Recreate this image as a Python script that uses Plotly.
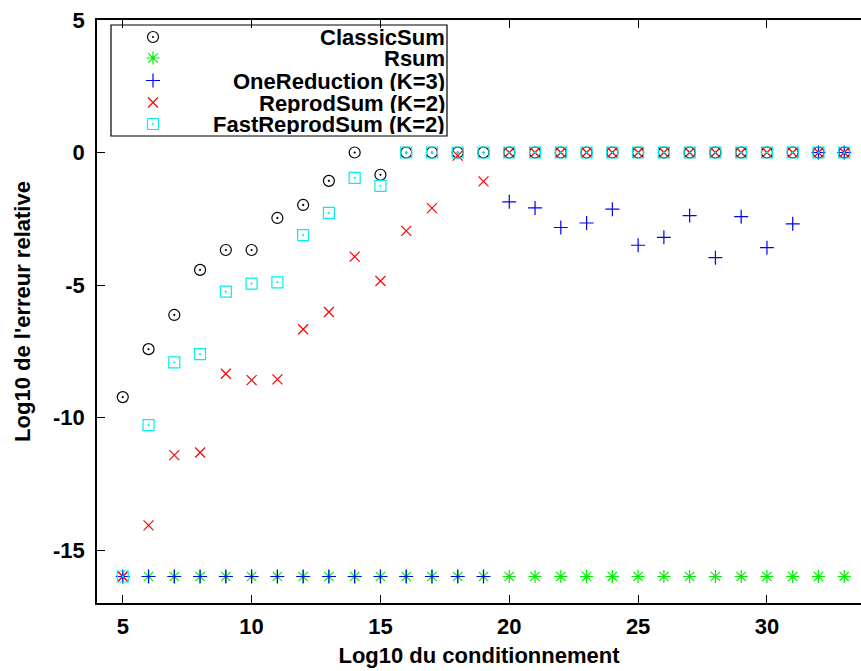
import plotly.graph_objects as go

# ---- data ----
cond = list(range(5, 34))

classic_sum = [-9.23, -7.42, -6.13, -4.43, -3.68, -3.68, -2.47, -1.98, -1.07, 0.0, -0.84] + [0.0] * 18
rsum = [-16.0] * 29
one_reduction = [-16.0] * 15 + [-1.86, -2.09, -2.83, -2.66, -2.14, -3.50, -3.20, -2.38, -3.97,
                                -2.42, -3.59, -2.69, 0.0, 0.0]
reprod_sum = [-16.0, -14.07, -11.42, -11.32, -8.35, -8.59, -8.56, -6.67, -6.02, -3.93, -4.85,
              -2.96, -2.10, -0.12, -1.09] + [0.0] * 14
fast_reprod_sum = [-16.0, -10.29, -7.92, -7.61, -5.25, -4.95, -4.90, -3.12, -2.28, -0.96, -1.26] + [0.0] * 18

series_names = ["ClassicSum", "Rsum", "OneReduction (K=3)", "ReprodSum (K=2)", "FastReprodSum (K=2)"]
series_values = [classic_sum, rsum, one_reduction, reprod_sum, fast_reprod_sum]
series_colors = ["#000000", "#00ee00", "#0000ff", "#ff0000", "#00eeee"]
series_symbols = ["circle-open-dot", "asterisk-open", "cross-thin-open", "x-thin-open", "square-open-dot"]
series_sizes = [11, 11, 10, 10, 11]

x_ticks = [5, 10, 15, 20, 25, 30]
x_tick_text = ["5", "10", "15", "20", "25", "30"]
y_ticks = [5, 0, -5, -10, -15]
y_tick_text = ["5", "0", "-5", "-10", "-15"]

FONT = "Liberation Sans, Arial, sans-serif"
FS = 22

fig = go.Figure()
for name, vals, col, sym, sz in zip(series_names, series_values, series_colors, series_symbols, series_sizes):
    fig.add_trace(go.Scatter(
        x=cond, y=vals, mode="markers", name=name, showlegend=False,
        marker=dict(symbol=sym, size=sz, color=col, line=dict(color=col, width=1.2)),
        xaxis="x", yaxis="y",
    ))

# ---- custom legend (pixel-like overlay axes) ----
leg_x_sym = 153
leg_x_txt = 446
leg_rows = [37, 58, 80.5, 102.5, 124]
for name, col, sym, sz, ry in zip(series_names, series_colors, series_symbols, series_sizes, leg_rows):
    fig.add_trace(go.Scatter(
        x=[leg_x_sym], y=[ry], mode="markers", showlegend=False, hoverinfo="skip",
        marker=dict(symbol=sym, size=sz, color=col, line=dict(color=col, width=1.2)),
        xaxis="x2", yaxis="y2",
    ))
    fig.add_annotation(x=leg_x_txt, y=ry, xref="x2", yref="y2", text=name, showarrow=False,
                       xanchor="right", yanchor="middle", height=20, borderpad=0,
                       font=dict(family=FONT, size=FS, color="black", weight="bold"))

fig.add_shape(type="rect", xref="x2", yref="y2", x0=111, x1=447, y0=25, y1=136,
              line=dict(color="black", width=1.2), fillcolor="rgba(0,0,0,0)")

fig.update_layout(
    width=861, height=671,
    margin=dict(l=97, r=0, t=20, b=68),
    paper_bgcolor="white", plot_bgcolor="white",
    font=dict(family=FONT, size=FS, color="black"),
    xaxis=dict(
        range=[4, 33.65], tickmode="array", tickvals=x_ticks, ticktext=x_tick_text,
        ticks="inside", ticklen=8, tickwidth=1.2, tickcolor="black",
        showline=True, linecolor="black", linewidth=1.5, mirror="ticks",
        showgrid=False, zeroline=False, ticklabelstandoff=3,
        tickfont=dict(family=FONT, size=FS, weight="bold"),
        title=dict(text="Log10 du conditionnement", font=dict(family=FONT, size=FS, weight="bold"), standoff=9),
    ),
    yaxis=dict(
        range=[-17, 5], tickmode="array", tickvals=y_ticks, ticktext=y_tick_text,
        ticks="inside", ticklen=8, tickwidth=1.2, tickcolor="black",
        showline=True, linecolor="black", linewidth=1.5, mirror=False,
        showgrid=False, zeroline=False, ticklabelstandoff=6,
        tickfont=dict(family=FONT, size=FS, weight="bold"),
        title=dict(text="Log10 de l'erreur relative", font=dict(family=FONT, size=FS, weight="bold"), standoff=16),
    ),
    xaxis2=dict(range=[97, 861], overlaying="x", visible=False, showgrid=False, zeroline=False),
    yaxis2=dict(range=[603, 20], overlaying="y", visible=False, showgrid=False, zeroline=False),
    showlegend=False,
)

fig.write_html("out.html")
